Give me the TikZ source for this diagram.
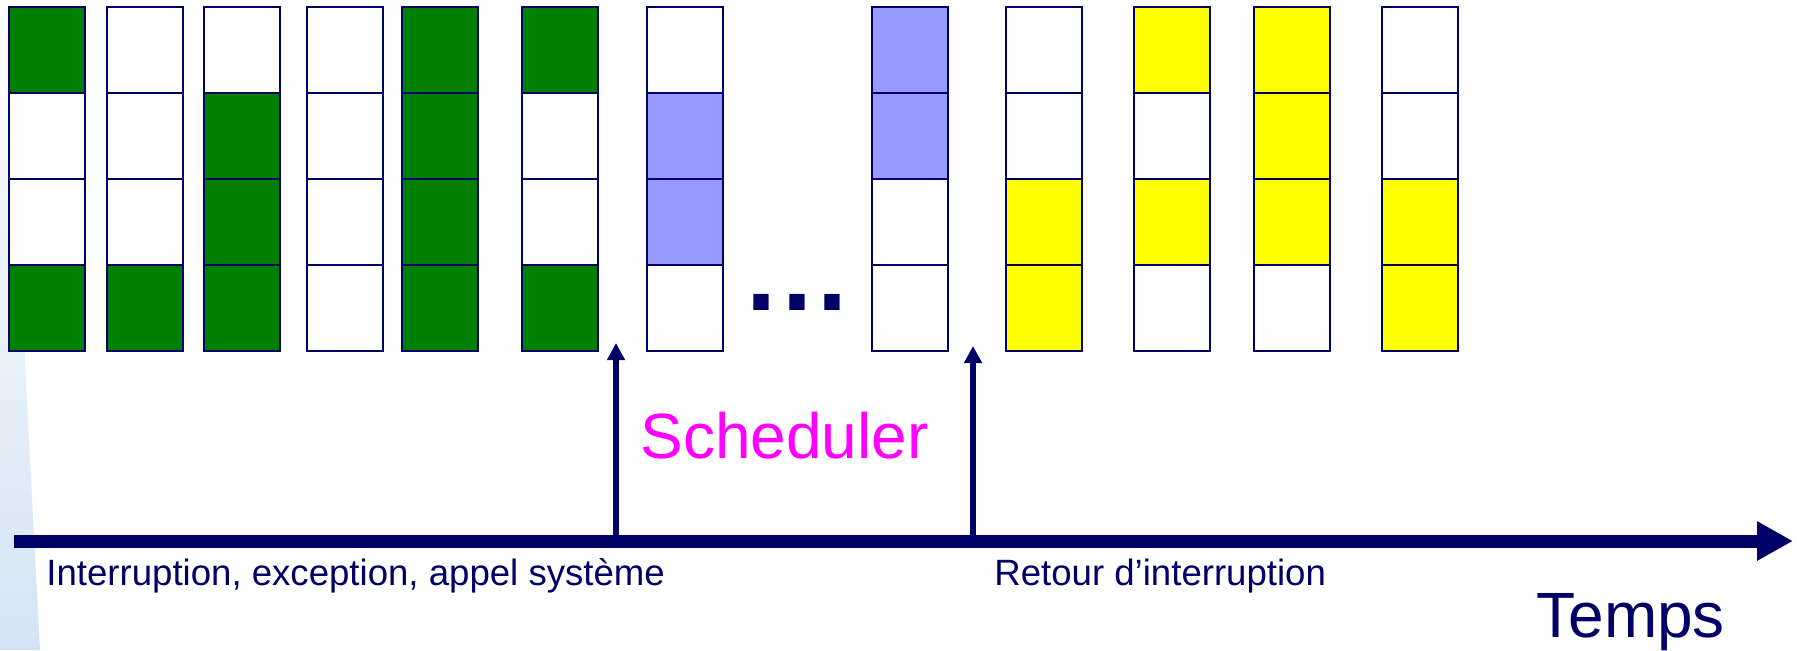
\documentclass[tikz,border=0pt]{standalone}
\usepackage{fontspec}
\setmainfont{Liberation Sans}
\usetikzlibrary{arrows.meta}
\definecolor{navy}{RGB}{0,0,102}
\definecolor{cg}{RGB}{0,128,0}
\definecolor{cw}{RGB}{255,255,255}
\definecolor{cb}{RGB}{153,153,255}
\definecolor{cy}{RGB}{255,255,0}
\definecolor{edge}{RGB}{212,228,244}
\definecolor{sched}{RGB}{255,0,255}
\tikzset{
  cell/.style={draw=navy, line width=1.25pt, fill=#1, minimum width=38pt,
    minimum height=43pt, inner sep=0pt, outer sep=0pt},
  timeline/.style={navy, line width=6.5pt,
    -{Triangle[length=18pt,width=18.5pt]}},
  event/.style={navy, line width=3pt,
    -{Triangle[length=8.5pt,width=8.5pt]}},
  caption/.style={text=navy, anchor=base west, inner sep=0pt,
    font=\fontsize{18.3}{20}\selectfont},
  big/.style={anchor=base west, inner sep=0pt,
    font=\fontsize{32}{36}\selectfont},
}
\begin{document}
\begin{tikzpicture}[x=0.5pt,y=-0.5pt]
\useasboundingbox (0,0) rectangle (1797,650);
% pale wedge along the left edge
\shade[top color=white, bottom color=edge] (0,0) -- (6,0) -- (40,650) -- (0,650) -- cycle;

% register columns: left edge, then fills from top to bottom
\foreach \x/\a/\b/\c/\d [count=\i] in {
    9/cg/cw/cw/cg, 107/cw/cw/cw/cg, 204/cw/cg/cg/cg, 307/cw/cw/cw/cw,
    402/cg/cg/cg/cg, 522/cg/cw/cw/cg, 647/cw/cb/cb/cw, 872/cb/cb/cw/cw,
    1006/cw/cw/cy/cy, 1134/cy/cw/cy/cw, 1254/cy/cy/cy/cw, 1382/cw/cw/cy/cy} {
  \node[cell=\a] (c\i-1) at (\x+38,50) {};
  \node[cell=\b] (c\i-2) at (\x+38,136) {};
  \node[cell=\c] (c\i-3) at (\x+38,222) {};
  \node[cell=\d] (c\i-4) at (\x+38,308) {};
}

% ellipsis between the two groups
\node[text=navy, anchor=base, inner sep=0pt,
  font=\fontsize{54}{60}\selectfont\bfseries] (dots) at (797,310)
  {.\kern2.6pt.\kern2.6pt.};

% time axis
\coordinate (t0) at (14,541);
\coordinate (t1) at (1793,541);
\draw[timeline] (t0) -- (t1);

% events on the axis
\coordinate (irq) at (616,541);
\coordinate (irqtip) at (616,343);
\coordinate (ret) at (973,541);
\coordinate (rettip) at (973,346);
\draw[event] (irq) -- (irqtip);
\draw[event] (ret) -- (rettip);

\node[big, text=sched] (sch) at (640,458) {Scheduler};
\node[caption] (lirq) at (46,585) {Interruption, exception, appel système};
\node[caption] (lret) at (994,585) {Retour d’interruption};
\node[big, text=navy] (temps) at (1536,637) {Temps};
\end{tikzpicture}
\end{document}
